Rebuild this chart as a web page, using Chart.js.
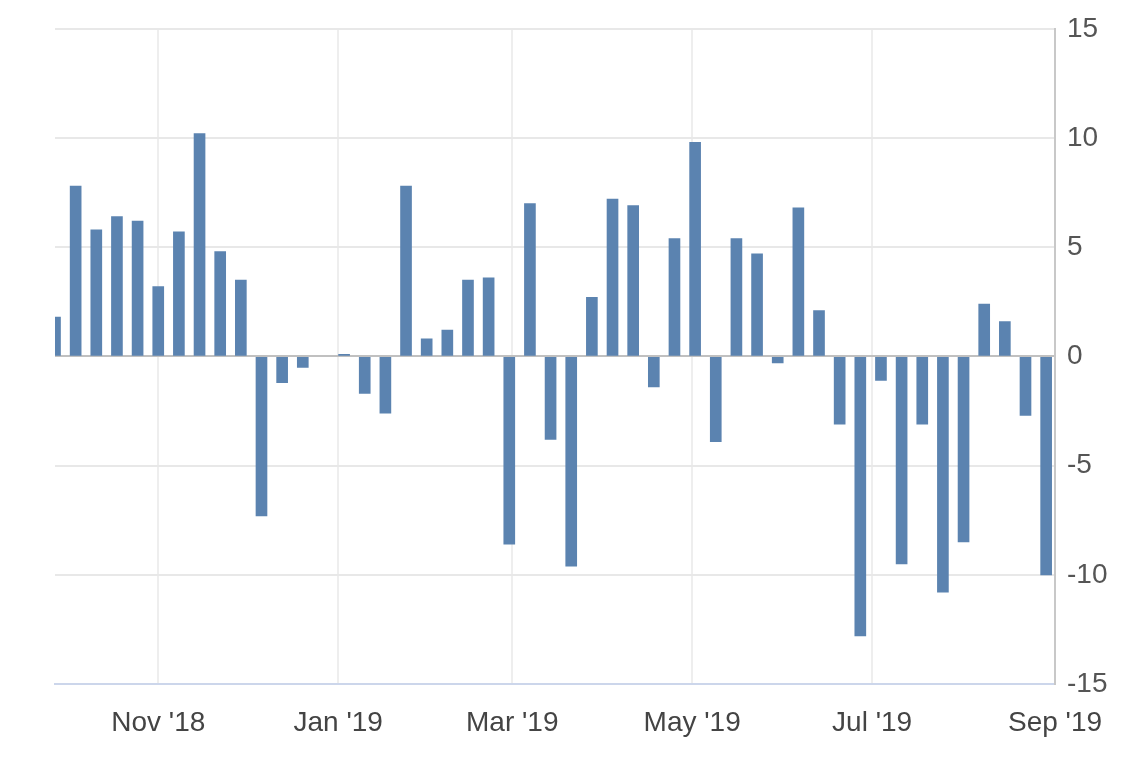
<!DOCTYPE html>
<html>
<head>
<meta charset="utf-8">
<script src="https://cdn.jsdelivr.net/npm/chart.js@4/dist/chart.umd.min.js"></script>
<style>
  html, body { margin: 0; padding: 0; background: #fff; }
  #wrap { width: 1146px; height: 757px; }
</style>
</head>
<body>
<div id="wrap"><canvas id="chart"></canvas></div>
<script>
// weekly report dates
const weekDates = [
  "2018-09-27", "2018-10-04", "2018-10-11", "2018-10-18", "2018-10-25",
  "2018-11-01", "2018-11-08", "2018-11-15", "2018-11-22", "2018-11-29",
  "2018-12-06", "2018-12-13", "2018-12-20", "2018-12-27",
  "2019-01-03", "2019-01-10", "2019-01-17", "2019-01-24", "2019-01-31",
  "2019-02-07", "2019-02-14", "2019-02-21", "2019-02-28",
  "2019-03-07", "2019-03-14", "2019-03-21", "2019-03-28",
  "2019-04-04", "2019-04-11", "2019-04-18", "2019-04-25",
  "2019-05-02", "2019-05-09", "2019-05-16", "2019-05-23", "2019-05-30",
  "2019-06-06", "2019-06-13", "2019-06-20", "2019-06-27",
  "2019-07-04", "2019-07-11", "2019-07-18", "2019-07-25",
  "2019-08-01", "2019-08-08", "2019-08-15", "2019-08-22", "2019-08-29",
];

// weekly change (null = no bar that week)
const weekValues = [
  1.8, 7.8, 5.8, 6.4, 6.2,
  3.2, 5.7, 10.2, 4.8, 3.5,
  -7.3, -1.2, -0.5, null,
  0.1, -1.7, -2.6, 7.8, 0.8,
  1.2, 3.5, 3.6, -8.6,
  7.0, -3.8, -9.6, 2.7,
  7.2, 6.9, -1.4, 5.4,
  9.8, -3.9, 5.4, 4.7, -0.3,
  6.8, 2.1, -3.1, -12.8,
  -1.1, -9.5, -3.1, -10.8,
  -8.5, 2.4, 1.6, -2.7, -10.0,
];

// x axis ticks
const tickDates = ["2018-11-01", "2019-01-01", "2019-03-01", "2019-05-01", "2019-07-01", "2019-09-01"];
const tickLabels = ["Nov '18", "Jan '19", "Mar '19", "May '19", "Jul '19", "Sep '19"];

// y axis
const yTicks = [-15, -10, -5, 0, 5, 10, 15];

const toDay = (s) => Date.parse(s) / 86400000;

const points = weekDates.map((d, i) => ({ x: toDay(d), y: weekValues[i] }));

new Chart(document.getElementById("chart"), {
  type: "bar",
  data: {
    datasets: [
      {
        data: points,
        backgroundColor: "#5b83b0",
        barThickness: 11,
      },
    ],
  },
  options: {
    responsive: true,
    maintainAspectRatio: false,
    animation: false,
    layout: { padding: { top: 28, left: 55, right: 0, bottom: 0 } },
    plugins: {
      legend: { display: false },
      tooltip: { enabled: false },
    },
    scales: {
      x: {
        type: "linear",
        offset: false,
        min: toDay(weekDates[0]),
        max: toDay(tickDates[tickDates.length - 1]),
        afterBuildTicks: (scale) => {
          scale.ticks = tickDates.map((d) => ({ value: toDay(d) }));
        },
        afterFit: (scale) => {
          scale.height = 73;
        },
        ticks: {
          autoSkip: false,
          maxRotation: 0,
          padding: 22,
          color: "#444",
          font: { family: "'Liberation Sans', Arial, sans-serif", size: 28 },
          callback: (v, i) => tickLabels[i],
        },
        grid: { offset: false, color: "#eeeeee", lineWidth: 2, drawTicks: false },
        border: { color: "#ccd6eb", width: 2 },
      },
      y: {
        position: "right",
        min: -15,
        max: 15,
        afterBuildTicks: (scale) => {
          scale.ticks = yTicks.map((v) => ({ value: v }));
        },
        afterFit: (scale) => {
          scale.width = 91;
        },
        ticks: {
          padding: 12,
          color: "#555",
          font: { family: "'Liberation Sans', Arial, sans-serif", size: 28 },
        },
        grid: {
          drawTicks: false,
          lineWidth: 2,
          color: (ctx) => (ctx.tick && ctx.tick.value === 0 ? "#c0c0c0" : "#e8e8e8"),
        },
        border: { color: "#c8c8c8", width: 2 },
      },
    },
  },
});
</script>
</body>
</html>
